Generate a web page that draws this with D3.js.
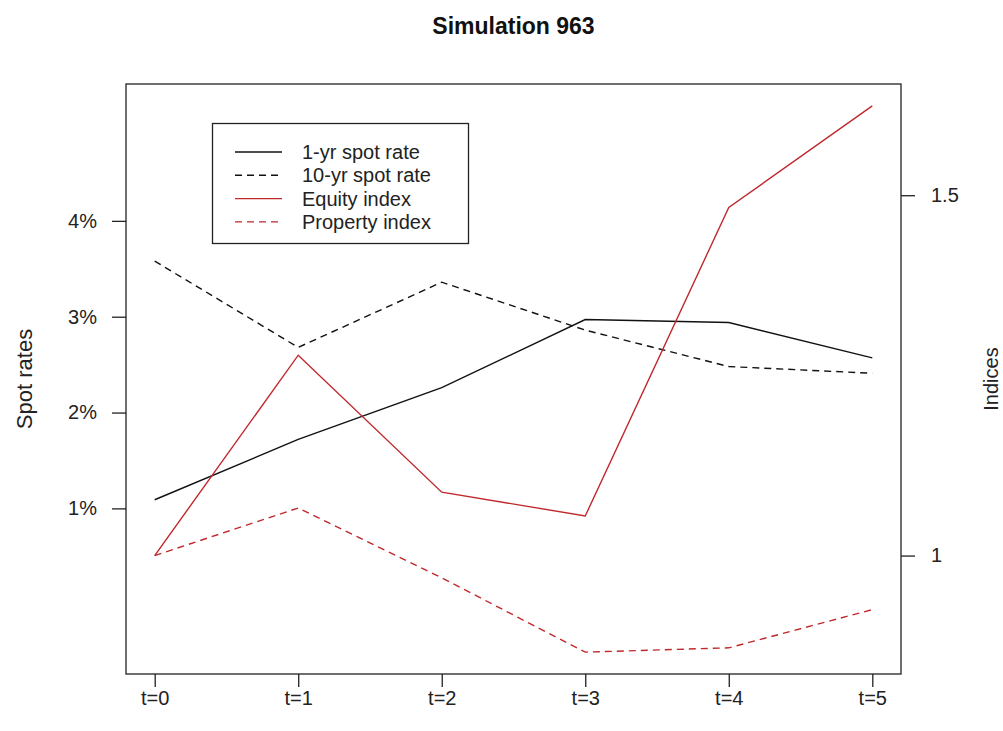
<!DOCTYPE html>
<html>
<head>
    <meta charset="UTF-8">
    <title>Simulation 963</title>
    <script src="https://cdn.jsdelivr.net/npm/d3@7"></script>
    <style>
        body {
            margin: 0;
            padding: 0;
            background-color: #fff;
            font-family: 'Liberation Sans', Arial, sans-serif;
        }
        svg {
            display: block;
        }
        .tick-label {
            font-size: 20px;
            fill: #222;
        }
        .legend text {
            font-size: 20px;
            fill: #222;
        }
    </style>
</head>
<body>
    <div id="chart"></div>

    <script>
        // données
        const periods = ["t=0", "t=1", "t=2", "t=3", "t=4", "t=5"];
        const spot1yr = [1.09, 1.72, 2.26, 2.97, 2.94, 2.57];
        const spot10yr = [3.58, 2.68, 3.36, 2.86, 2.48, 2.41];
        const equityIndex = [1.0, 1.278, 1.088, 1.055, 1.483, 1.624];
        const propertyIndex = [1.0, 1.066, 0.969, 0.866, 0.872, 0.925];

        const rateTicks = [1, 2, 3, 4];
        const indexTicks = [1, 1.5];
        const rateLimits = [-0.5, 5.2];
        const legendLabels = ["1-yr spot rate", "10-yr spot rate", "Equity index", "Property index"];

        const width = 1003;
        const height = 731;
        const margin = { top: 84, right: 102, bottom: 57, left: 126 };
        const red = "#c0282c";

        // style R : 4% de marge autour des limites
        function pad(ext) {
            const d = (ext[1] - ext[0]) * 0.04;
            return [ext[0] - d, ext[1] + d];
        }

        const svg = d3.select("#chart").append("svg")
            .attr("width", width)
            .attr("height", height);

        const x = d3.scaleLinear()
            .domain(pad([0, periods.length - 1]))
            .range([margin.left, width - margin.right]);

        const yLeft = d3.scaleLinear()
            .domain(pad(rateLimits))
            .range([height - margin.bottom, margin.top]);

        const yRight = d3.scaleLinear()
            .domain(pad(d3.extent(equityIndex.concat(propertyIndex))))
            .range([height - margin.bottom, margin.top]);

        // cadre
        svg.append("rect")
            .attr("x", margin.left)
            .attr("y", margin.top)
            .attr("width", width - margin.left - margin.right)
            .attr("height", height - margin.top - margin.bottom)
            .attr("fill", "none")
            .attr("stroke", "#222")
            .attr("stroke-width", 1.3);

        // axes
        const xAxis = svg.append("g")
            .attr("transform", "translate(0," + (height - margin.bottom) + ")")
            .call(d3.axisBottom(x)
                .tickValues(d3.range(periods.length))
                .tickFormat(i => periods[i])
                .tickSize(13)
                .tickPadding(4));

        const leftAxis = svg.append("g")
            .attr("transform", "translate(" + margin.left + ",0)")
            .call(d3.axisLeft(yLeft)
                .tickValues(rateTicks)
                .tickFormat(d => d + "%")
                .tickSize(14)
                .tickPadding(15));

        const rightAxis = svg.append("g")
            .attr("transform", "translate(" + (width - margin.right) + ",0)")
            .call(d3.axisRight(yRight)
                .tickValues(indexTicks)
                .tickFormat(d => d)
                .tickSize(14)
                .tickPadding(16));

        [xAxis, leftAxis, rightAxis].forEach(a => {
            a.select(".domain").remove();
            a.selectAll(".tick line").attr("stroke", "#222").attr("stroke-width", 1.3);
            a.selectAll(".tick text")
                .attr("class", "tick-label")
                .style("font-family", "'Liberation Sans', Arial, sans-serif");
        });

        // titres
        svg.append("text")
            .attr("x", (margin.left + width - margin.right) / 2)
            .attr("y", 34)
            .attr("text-anchor", "middle")
            .style("font-size", "23px")
            .style("font-weight", "bold")
            .style("fill", "#111")
            .text("Simulation 963");

        svg.append("text")
            .attr("transform", "translate(32," + (margin.top + height - margin.bottom) / 2 + ") rotate(-90)")
            .attr("text-anchor", "middle")
            .style("font-size", "22px")
            .style("fill", "#222")
            .text("Spot rates");

        svg.append("text")
            .attr("transform", "translate(998," + (margin.top + height - margin.bottom) / 2 + ") rotate(-90)")
            .attr("text-anchor", "middle")
            .style("font-size", "20px")
            .style("fill", "#222")
            .text("Indices");

        // séries
        const series = [
            { values: spot1yr, scale: yLeft, color: "#111", dash: null },
            { values: spot10yr, scale: yLeft, color: "#111", dash: "7,5" },
            { values: equityIndex, scale: yRight, color: red, dash: null },
            { values: propertyIndex, scale: yRight, color: red, dash: "7,5" }
        ];

        series.forEach(s => {
            const line = d3.line()
                .x((d, i) => x(i))
                .y(d => s.scale(d));
            svg.append("path")
                .datum(s.values)
                .attr("d", line)
                .attr("fill", "none")
                .attr("stroke", s.color)
                .attr("stroke-width", 1.4)
                .attr("stroke-dasharray", s.dash);
        });

        // légende
        const legend = svg.append("g").attr("class", "legend");
        legend.append("rect")
            .attr("x", 212.5)
            .attr("y", 123.5)
            .attr("width", 256)
            .attr("height", 120)
            .attr("fill", "#fff")
            .attr("stroke", "#222")
            .attr("stroke-width", 1.3);

        const row = legend.selectAll(".row")
            .data(series)
            .enter().append("g")
            .attr("class", "row")
            .attr("transform", (d, i) => "translate(0," + (152 + i * 23.3) + ")");

        row.append("line")
            .attr("x1", 235)
            .attr("x2", 282)
            .attr("stroke", d => d.color)
            .attr("stroke-width", 1.4)
            .attr("stroke-dasharray", d => d.dash);

        row.append("text")
            .attr("x", 302)
            .attr("dy", "0.35em")
            .text((d, i) => legendLabels[i]);
    </script>
</body>
</html>
